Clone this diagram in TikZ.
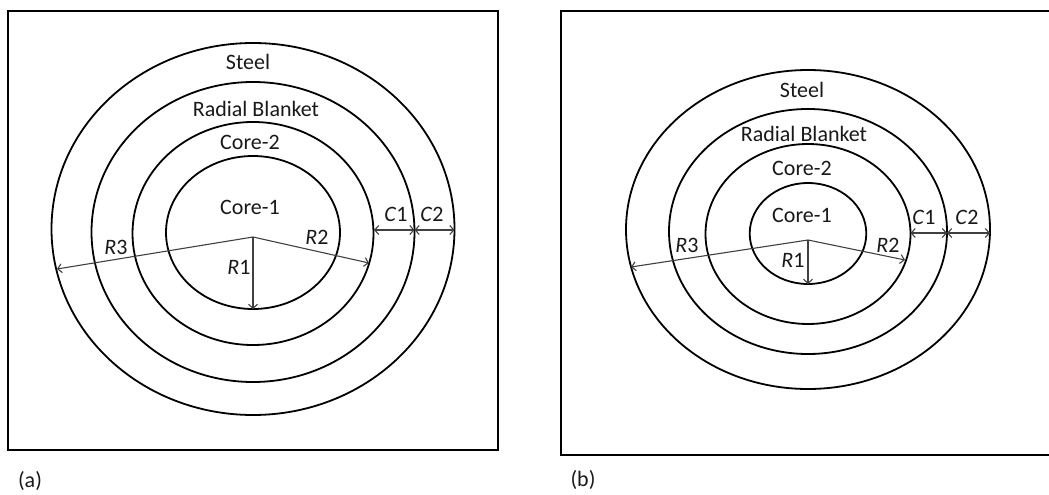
\documentclass[tikz,border=0pt]{standalone}
\usepackage{fontspec}
\setmainfont{Carlito}
\usetikzlibrary{arrows.meta}

\tikzset{
  shell/.style={draw=black, line width=1.8pt},
  frame/.style={draw=black, line width=2pt},
  dimarrow/.style={draw=black!75, line width=1.1pt, {Straight Barb[length=4pt,width=9pt]}-{Straight Barb[length=4pt,width=9pt]}},
  radarrow/.style={draw=black!75, line width=1.1pt, -{Straight Barb[length=4pt,width=9pt]}},
  zone/.style={font=\fontsize{22}{26}\selectfont, inner sep=0pt, text=black!90},
}

\begin{document}
\begin{tikzpicture}[x=1pt, y=-1pt]
\useasboundingbox (0,0) rectangle (1049,495);

% panel (a)
\draw[frame] (8,11) rectangle (498,450);
\draw[shell] (253,229) ellipse (201.5 and 186);
\draw[shell] (253,232) ellipse (161.5 and 150);
\draw[shell] (253,233.5) ellipse (120.5 and 111.5);
\draw[shell] (253,232.5) ellipse (87 and 76.5);
\coordinate (oA) at (253,237);
\coordinate (r1A) at (253,309);
\coordinate (r2A) at (369,263);
\coordinate (r3A) at (57,269);
\coordinate (c1aA) at (374,230);
\coordinate (c1bA) at (414.5,230);
\coordinate (c2bA) at (454.5,230);
\draw[radarrow] (oA) -- (r1A);
\draw[radarrow] (oA) -- (r2A);
\draw[radarrow] (oA) -- (r3A);
\draw[dimarrow] (c1aA) -- (c1bA);
\draw[dimarrow] (c1bA) -- (c2bA);
\node[zone] (steelA) at (248,62) {Steel};
\node[zone] (blanketA) at (256,109) {Radial Blanket};
\node[zone] (core2A) at (250,142) {Core-2};
\node[zone] (core1A) at (250,207) {Core-1};
\node[zone] (labR3A) at (116,247) {\textit{R}3};
\node[zone] (labR2A) at (317,237) {\textit{R}2};
\node[zone] (labR1A) at (239,267) {\textit{R}1};
\node[zone] (labC1A) at (396,214) {\textit{C}1};
\node[zone] (labC2A) at (432,214) {\textit{C}2};
\node[zone] (capA) at (30,481) {(a)};

% panel (b)
\draw[frame] (1049,11) -- (561,11) -- (561,455) -- (1049,455);
\draw[shell] (808,229.5) ellipse (182 and 159.5);
\draw[shell] (808,231.5) ellipse (139 and 122.5);
\draw[shell] (808,234) ellipse (102.5 and 90);
\draw[shell] (808,233.5) ellipse (58.3 and 50.5);
\coordinate (oB) at (808,240);
\coordinate (r1B) at (808,284);
\coordinate (r2B) at (905,260);
\coordinate (r3B) at (631,267);
\coordinate (c1aB) at (910.5,233);
\coordinate (c1bB) at (947,233);
\coordinate (c2bB) at (990,233);
\draw[radarrow] (oB) -- (r1B);
\draw[radarrow] (oB) -- (r2B);
\draw[radarrow] (oB) -- (r3B);
\draw[dimarrow] (c1aB) -- (c1bB);
\draw[dimarrow] (c1bB) -- (c2bB);
\node[zone] (steelB) at (802,90) {Steel};
\node[zone] (blanketB) at (804,134) {Radial Blanket};
\node[zone] (core2B) at (802,168) {Core-2};
\node[zone] (core1B) at (802,215) {Core-1};
\node[zone] (labR3B) at (687,245) {\textit{R}3};
\node[zone] (labR2B) at (888,245) {\textit{R}2};
\node[zone] (labR1B) at (793,260) {\textit{R}1};
\node[zone] (labC1B) at (924,217) {\textit{C}1};
\node[zone] (labC2B) at (967,217) {\textit{C}2};
\node[zone] (capB) at (583,480) {(b)};
\end{tikzpicture}
\end{document}
